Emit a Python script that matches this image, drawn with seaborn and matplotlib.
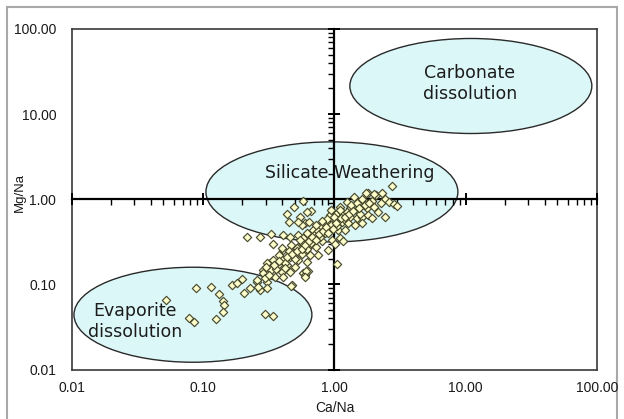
import numpy as np
import matplotlib
matplotlib.use("Agg")
import matplotlib.pyplot as plt
import seaborn as sns
from matplotlib.patches import Ellipse, Rectangle
from matplotlib.transforms import Affine2D
from matplotlib.ticker import FixedLocator, LogLocator, NullFormatter

# ---------------- data ----------------
ca_na = [
    # evaporite-side samples
    0.052, 0.078, 0.085, 0.089, 0.115, 0.133, 0.142, 0.145, 0.142, 0.126,
    0.297, 0.340, 0.166, 0.181, 0.197, 0.206, 0.228, 0.257, 0.272, 0.306,
    0.474, 0.578, 0.600, 0.630, 0.286, 0.324,
    # main band
    2.73, 1.80, 2.08, 2.29, 1.41, 2.43, 2.62, 2.85, 2.98, 2.25,
    1.93, 1.71, 1.57, 1.32, 1.48, 1.77, 2.00, 2.43, 2.16, 0.58,
    0.49, 0.44, 0.67, 0.45, 0.55, 0.60, 0.565, 0.93, 1.04, 1.21,
    1.32, 1.48, 1.62, 1.81, 0.875, 1.01, 1.14, 1.28, 1.44, 1.62,
    0.78, 0.93, 1.07, 1.21, 0.69, 0.62, 0.53, 0.46, 0.27, 0.33,
    0.405, 0.34, 0.58, 0.69, 0.80, 0.955, 1.10, 1.17, 1.01, 0.90,
    0.73, 0.63, 0.55, 0.47, 0.41, 0.49, 0.565, 0.65, 0.755, 0.46,
    0.40, 0.34, 0.53, 0.62, 0.306, 0.375, 0.435, 0.50, 0.33, 0.40,
    0.46, 0.288, 0.354, 0.41, 1.05, 0.61, 0.60, 0.47, 0.257, 0.297,
    0.264, 0.306, 0.215,
    0.62, 0.53, 1.93, 1.57, 1.64, 1.24, 1.10, 0.645, 1.74, 2.00,
    0.45, 0.52, 0.58, 0.70, 0.75, 0.85, 0.95, 0.88, 1.00, 1.15,
    1.25, 1.35, 1.50, 0.38, 0.42, 0.36, 0.50, 0.62, 0.66, 0.78,
    0.85, 1.05, 1.18, 0.40, 0.30, 0.55, 0.72, 0.95, 1.10, 0.80,
    0.35, 0.38, 0.44, 0.48, 0.52, 0.57, 0.60, 0.64, 0.68, 0.72,
    0.76, 0.82, 0.87, 0.90, 0.98, 1.03, 1.12, 1.20, 1.30, 1.40,
    1.55, 1.70, 1.85, 0.42, 0.32,
]
mg_na = [
    0.065, 0.040, 0.036, 0.091, 0.092, 0.077, 0.063, 0.057, 0.048, 0.039,
    0.045, 0.042, 0.098, 0.103, 0.117, 0.080, 0.090, 0.107, 0.086, 0.107,
    0.098, 0.136, 0.128, 0.145, 0.147, 0.177,
    1.43, 1.19, 1.12, 1.17, 1.07, 1.02, 0.93, 0.88, 0.83, 0.90,
    0.96, 0.93, 0.855, 0.78, 0.75, 0.78, 0.82, 0.62, 0.71, 0.96,
    0.82, 0.68, 0.73, 0.535, 0.62, 0.52, 0.50, 0.65, 0.68, 0.65,
    0.62, 0.60, 0.62, 0.65, 0.54, 0.54, 0.54, 0.52, 0.50, 0.53,
    0.475, 0.455, 0.435, 0.44, 0.435, 0.40, 0.38, 0.36, 0.36, 0.39,
    0.38, 0.30, 0.35, 0.33, 0.32, 0.33, 0.35, 0.32, 0.30, 0.253,
    0.277, 0.277, 0.29, 0.29, 0.253, 0.24, 0.23, 0.22, 0.22, 0.21,
    0.20, 0.193, 0.193, 0.184, 0.177, 0.169, 0.169, 0.161, 0.147, 0.141,
    0.141, 0.135, 0.123, 0.123, 0.172, 0.145, 0.121, 0.096, 0.112, 0.118,
    0.094, 0.090, 0.36,
    0.71, 0.535, 0.60, 0.68, 1.02, 0.93, 0.82, 0.54, 1.17, 1.15,
    0.25, 0.27, 0.30, 0.38, 0.42, 0.45, 0.50, 0.58, 0.62, 0.70,
    0.70, 0.85, 0.90, 0.22, 0.18, 0.15, 0.20, 0.26, 0.31, 0.36,
    0.40, 0.48, 0.58, 0.27, 0.16, 0.33, 0.50, 0.75, 0.75, 0.55,
    0.17, 0.19, 0.21, 0.23, 0.25, 0.26, 0.29, 0.32, 0.36, 0.33,
    0.39, 0.42, 0.47, 0.40, 0.45, 0.52, 0.60, 0.62, 0.68, 0.72,
    0.80, 0.85, 0.90, 0.155, 0.13,
]

tick_values = [0.01, 0.1, 1, 10, 100]
tick_labels = ["0.01", "0.10", "1.00", "10.00", "100.00"]
region_labels = ["Carbonate\ndissolution", "Silicate Weathering", "Evaporite\ndissolution"]
x_label = "Ca/Na"
y_label = "Mg/Na"

# ---------------- annotation geometry (ratio units / decades) ----------------
ell_center_ca = [10.96, 0.96, 0.084]
ell_center_mg = [21.4, 1.22, 0.044]
ell_width_dec = [1.842, 1.918, 1.811]
ell_height_dec = [1.116, 1.175, 1.116]
txt_ca = [10.8, 1.31, 0.0304]
txt_mg = [22.9, 2.03, 0.0366]

# ---------------- figure ----------------
sns.set_style("white")
plt.rcParams['font.family'] = ['Liberation Sans', 'DejaVu Sans']

fig = plt.figure(figsize=(6.24, 4.19), dpi=100)
fig.patch.set_facecolor('white')
rect = [0.1146, 0.1181, 0.8421, 0.8127]
ax = fig.add_axes(rect, label='base')
ax2 = fig.add_axes(rect, label='overlay')

for a in (ax, ax2):
    a.set_xscale('log')
    a.set_yscale('log')
    a.set_xlim(0.01, 100)
    a.set_ylim(0.01, 100)

# base axes: plot-area box and tick labels
for s in ax.spines.values():
    s.set_visible(True)
    s.set_color('#3a3a3a')
    s.set_linewidth(1.2)
ax.set_xticks(tick_values, tick_labels)
ax.set_yticks(tick_values, tick_labels)
ax.xaxis.set_minor_locator(FixedLocator([]))
ax.yaxis.set_minor_locator(FixedLocator([]))
ax.tick_params(axis='both', which='both', length=0, labelsize=10, labelcolor='#1a1a1a')
ax.tick_params(axis='x', pad=8)
ax.tick_params(axis='y', pad=11)
ax.set_xlabel(x_label, fontsize=10, color='#1a1a1a')
ax.set_ylabel(y_label, fontsize=9.5, color='#1a1a1a')
ax.xaxis.set_label_coords(0.501, -0.092)
ax.yaxis.set_label_coords(-0.087, 0.521)

# ellipses drawn in log-decade space
logt = Affine2D().translate(2, 2).scale(0.25) + ax.transAxes
for cx, cy, w, h in zip(ell_center_ca, ell_center_mg, ell_width_dec, ell_height_dec):
    ax.add_patch(Ellipse((np.log10(cx), np.log10(cy)), w, h, transform=logt,
                         facecolor='#dcf7f8', edgecolor='#2a2a2a', lw=1.0, zorder=1))

# overlay axes: crossing axes at 1,1 with ticks
ax2.patch.set_visible(False)
ax2.spines['top'].set_visible(False)
ax2.spines['right'].set_visible(False)
for s in ('left', 'bottom'):
    ax2.spines[s].set_visible(True)
    ax2.spines[s].set_position(('data', 1))
    ax2.spines[s].set_color('black')
    ax2.spines[s].set_linewidth(1.6)
for axis in (ax2.xaxis, ax2.yaxis):
    axis.set_major_locator(FixedLocator(tick_values))
    axis.set_minor_locator(LogLocator(base=10, subs=np.arange(2, 10)))
    axis.set_minor_formatter(NullFormatter())
ax2.tick_params(which='both', bottom=True, left=True, top=False, right=False,
                labelbottom=False, labelleft=False, color='black')
ax2.tick_params(which='major', direction='inout', length=9, width=1.4)
ax2.tick_params(which='minor', direction='out', length=4, width=1.0)

sns.scatterplot(x=ca_na, y=mg_na, ax=ax2, marker='D', s=18, color='#ffffcc',
                edgecolor='#4a4a2e', linewidth=0.85, zorder=4, legend=False)
ax2.set_xlim(0.01, 100)
ax2.set_ylim(0.01, 100)
ax2.set_xlabel('')
ax2.set_ylabel('')

for lab, tx, ty in zip(region_labels, txt_ca, txt_mg):
    ax2.text(tx, ty, lab, ha='center', va='center', fontsize=12.5,
             family=['DejaVu Sans'], color='#1c1c1c', zorder=6, linespacing=1.15)

# outer chart frame (bottom edge runs off the image, as in the reference)
frame = Rectangle((7 / 624, -6 / 419), 610 / 624, 418 / 419,
                  transform=fig.transFigure, fill=False,
                  edgecolor='#a8a8a8', lw=1.5, zorder=-1)
fig.patches.append(frame)

fig.savefig('out.png', dpi=100, facecolor='white')
